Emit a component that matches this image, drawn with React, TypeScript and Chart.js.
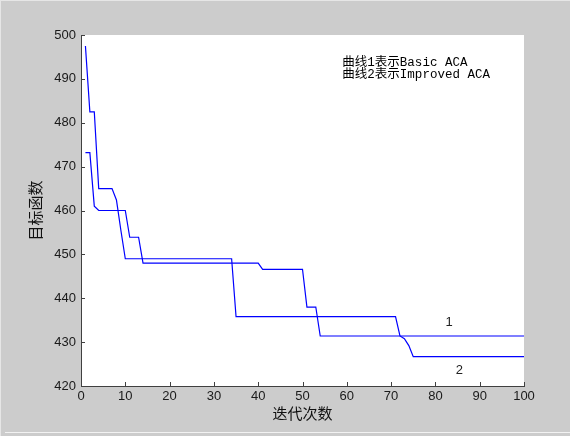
import { useEffect, useRef } from 'react';
import { Chart, registerables } from 'chart.js';

Chart.register(...registerables);

// ---- data ----
const xTickValues = [0, 10, 20, 30, 40, 50, 60, 70, 80, 90, 100];
const yTickValues = [420, 430, 440, 450, 460, 470, 480, 490, 500];

// Curve 1: Basic ACA
const basicIter = [1, 2, 3, 4, 10, 11, 13, 14, 40, 41, 50, 51, 53, 54, 100];
const basicValue = [473.2, 473.2, 461, 460, 460, 453.9, 453.9, 448, 448, 446.6, 446.6, 438, 438, 431.4, 431.4];

// Curve 2: Improved ACA
const improvedIter = [1, 2, 3, 4, 7, 8, 9, 10, 34, 35, 71, 72, 73, 74, 75, 100];
const improvedValue = [497.5, 482.5, 482.5, 465, 465, 462.4, 455.5, 449, 449, 435.8, 435.8, 431.4, 430.8, 429.2, 426.7, 426.7];

const xTitle = '迭代次数';
const yTitle = '目标函数';
const noteLines = ['曲线1表示Basic ACA', '曲线2表示Improved ACA'];
const noteX = 59.0;
const noteY = [493.8, 491.0];
const curveLabels = ['1', '2'];
const curveLabelX = [83.1, 85.4];
const curveLabelY = [434.4, 423.5];

const decorPlugin = {
  id: 'decor',
  beforeDraw(chart: any) {
    const { ctx, width, height, chartArea } = chart;
    ctx.save();
    ctx.fillStyle = '#cccccc';
    ctx.fillRect(0, 0, width, height);
    ctx.fillStyle = '#e6e6e6';
    ctx.fillRect(0, 0, width, 1);
    ctx.fillRect(0, 0, 1, height);
    ctx.fillStyle = '#f2f2f2';
    ctx.fillRect(5, 432, width - 5, 1);
    ctx.fillStyle = '#ffffff';
    ctx.fillRect(chartArea.left, chartArea.top, chartArea.right - chartArea.left, chartArea.bottom - chartArea.top);
    ctx.restore();
  },
  afterDraw(chart: any) {
    const { ctx, chartArea, scales } = chart;
    const xs = scales.x;
    const ys = scales.y;
    ctx.save();
    ctx.strokeStyle = '#404040';
    ctx.lineWidth = 1;
    ctx.beginPath();
    xTickValues.forEach((v) => {
      const px = Math.round(xs.getPixelForValue(v)) + 0.5;
      ctx.moveTo(px, chartArea.bottom);
      ctx.lineTo(px, chartArea.bottom - 4);
    });
    yTickValues.forEach((v) => {
      const py = Math.round(ys.getPixelForValue(v)) + 0.5;
      ctx.moveTo(chartArea.left, py);
      ctx.lineTo(chartArea.left + 4, py);
    });
    ctx.stroke();

    ctx.fillStyle = '#000000';
    ctx.textBaseline = 'middle';
    ctx.textAlign = 'left';
    ctx.font = '12.5px "Liberation Mono", "Noto Sans CJK SC", monospace';
    noteLines.forEach((t, i) => {
      ctx.fillText(t, xs.getPixelForValue(noteX), ys.getPixelForValue(noteY[i]));
    });
    ctx.textAlign = 'center';
    ctx.font = '13px "Liberation Sans", Arial, sans-serif';
    ctx.fillStyle = '#222222';
    curveLabels.forEach((t, i) => {
      ctx.fillText(t, xs.getPixelForValue(curveLabelX[i]), ys.getPixelForValue(curveLabelY[i]));
    });
    ctx.restore();
  },
};

export default function App() {
  const ref = useRef<HTMLCanvasElement | null>(null);
  useEffect(() => {
    document.body.style.margin = '0';
    const canvas = ref.current;
    if (!canvas) return;
    const tickFont = { family: '"Liberation Sans", Arial, sans-serif', size: 13 };
    const titleFont = { family: '"Noto Sans CJK SC", sans-serif', size: 15 };
    const chart = new Chart(canvas, {
      type: 'line',
      data: {
        datasets: [
          {
            label: 'Basic ACA',
            data: basicIter.map((x, i) => ({ x, y: basicValue[i] })),
            borderColor: 'rgb(0,0,255)',
            borderWidth: 1.2,
            pointRadius: 0,
            tension: 0,
            fill: false,
          },
          {
            label: 'Improved ACA',
            data: improvedIter.map((x, i) => ({ x, y: improvedValue[i] })),
            borderColor: 'rgb(0,0,255)',
            borderWidth: 1.2,
            pointRadius: 0,
            tension: 0,
            fill: false,
          },
        ],
      },
      options: {
        animation: false,
        responsive: false,
        devicePixelRatio: 1,
        layout: { padding: { left: 0, top: 35, right: 46, bottom: 0 } },
        plugins: { legend: { display: false }, tooltip: { enabled: false } },
        scales: {
          x: {
            type: 'linear',
            min: 0,
            max: 100,
            afterBuildTicks: (s: any) => {
              s.ticks = xTickValues.map((v) => ({ value: v }));
            },
            afterFit: (s: any) => {
              s.height = 50;
            },
            grid: { display: false, drawTicks: false },
            border: { display: true, color: '#404040', width: 1 },
            ticks: { autoSkip: false, maxRotation: 0, padding: 3, color: '#1a1a1a', font: tickFont },
            title: { display: true, text: xTitle, color: '#111111', font: titleFont, padding: { top: 0, bottom: 14 } },
          },
          y: {
            type: 'linear',
            min: 420,
            max: 500,
            afterBuildTicks: (s: any) => {
              s.ticks = yTickValues.map((v) => ({ value: v }));
            },
            afterFit: (s: any) => {
              s.width = 81;
            },
            grid: { display: false, drawTicks: false },
            border: { display: true, color: '#404040', width: 1 },
            ticks: { autoSkip: false, padding: 5, color: '#1a1a1a', font: tickFont },
            title: { display: true, text: yTitle, color: '#111111', font: titleFont, padding: { top: 26, bottom: 0 } },
          },
        },
      },
      plugins: [decorPlugin],
    } as any);
    return () => chart.destroy();
  }, []);
  return (
    <div style={{ width: 570, height: 436 }}>
      <canvas ref={ref} width={570} height={436} style={{ display: 'block', width: 570, height: 436 }} />
    </div>
  );
}
